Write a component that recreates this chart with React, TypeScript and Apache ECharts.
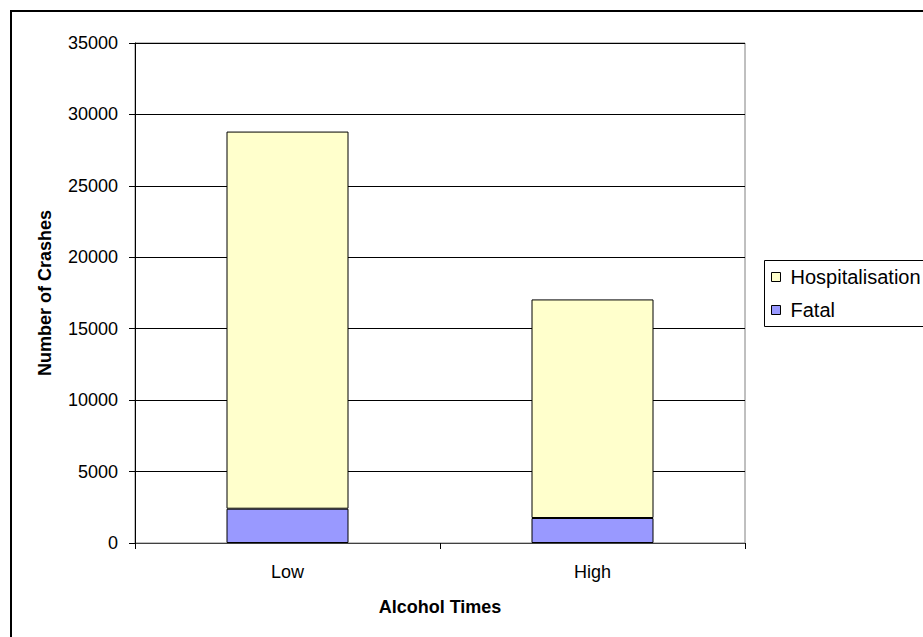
import React, { useEffect, useRef } from "react";
import * as echarts from "echarts";

const categories = ["Low", "High"];
const fatal = [2400, 1750];
const hospitalisation = [26400, 15300];
const yTicks = { min: 0, max: 35000, interval: 5000 };

const FONT = "'Liberation Sans', Arial, sans-serif";
const FS = 18;

export default function App() {
  const ref = useRef<HTMLDivElement>(null);

  useEffect(() => {
    if (!ref.current) return;
    const chart = echarts.init(ref.current, undefined, { renderer: "svg" });
    chart.setOption({
      animation: false,
      backgroundColor: "#ffffff",
      textStyle: { fontFamily: FONT, color: "#000" },
      grid: {
        left: 135,
        top: 43,
        right: 178,
        bottom: 94,
        show: true,
        borderColor: "#808080",
        borderWidth: 1,
        backgroundColor: "transparent",
      },
      legend: {
        orient: "vertical",
        left: 766,
        top: 262,
        padding: 5,
        icon: "rect",
        itemWidth: 9,
        itemHeight: 9,
        itemGap: 13,
        data: ["Hospitalisation", "Fatal"],
        textStyle: { fontFamily: FONT, fontSize: 20, color: "#000", padding: [0, 0, 0, 5] },
        itemStyle: { borderColor: "#000", borderWidth: 1 },
      },
      graphic: [
        {
          type: "rect",
          shape: { x: 11, y: 11, width: 940, height: 660 },
          style: { fill: "none", stroke: "#000", lineWidth: 2 },
          silent: true,
        },
        {
          type: "rect",
          shape: { x: 764.5, y: 260.5, width: 200, height: 66 },
          style: { fill: "none", stroke: "#000", lineWidth: 1 },
          silent: true,
        },
      ],
      xAxis: {
        type: "category",
        data: categories,
        boundaryGap: true,
        axisLine: { lineStyle: { color: "#404040", width: 1 } },
        axisTick: { show: true, length: 6, lineStyle: { color: "#000" } },
        axisLabel: { fontFamily: FONT, fontSize: FS, color: "#000", margin: 20 },
        name: "Alcohol Times",
        nameLocation: "middle",
        nameGap: 55,
        nameTextStyle: { fontFamily: FONT, fontSize: FS, fontWeight: "bold", color: "#000" },
      },
      yAxis: {
        type: "value",
        min: yTicks.min,
        max: yTicks.max,
        interval: yTicks.interval,
        axisLine: { show: true, lineStyle: { color: "#000", width: 1 } },
        axisTick: { show: true, length: 6, lineStyle: { color: "#000" } },
        axisLabel: {
          fontFamily: FONT,
          fontSize: FS,
          color: "#000",
          margin: 17,
          formatter: (v: number) => String(v),
        },
        splitLine: { show: true, lineStyle: { color: "#000", width: 1 } },
        name: "Number of Crashes",
        nameLocation: "middle",
        nameGap: 81,
        nameTextStyle: { fontFamily: FONT, fontSize: FS, fontWeight: "bold", color: "#000" },
      },
      series: [
        {
          name: "Fatal",
          type: "bar",
          stack: "crashes",
          barWidth: "40%",
          data: fatal,
          itemStyle: { color: "#9999FF", borderColor: "#000", borderWidth: 1 },
        },
        {
          name: "Hospitalisation",
          type: "bar",
          stack: "crashes",
          barWidth: "40%",
          data: hospitalisation,
          itemStyle: { color: "#FFFFCC", borderColor: "#000", borderWidth: 1 },
        },
      ],
    });
    return () => chart.dispose();
  }, []);

  return (
    <div
      ref={ref}
      style={{ position: "absolute", left: 0, top: 0, width: 923, height: 637 }}
    />
  );
}
